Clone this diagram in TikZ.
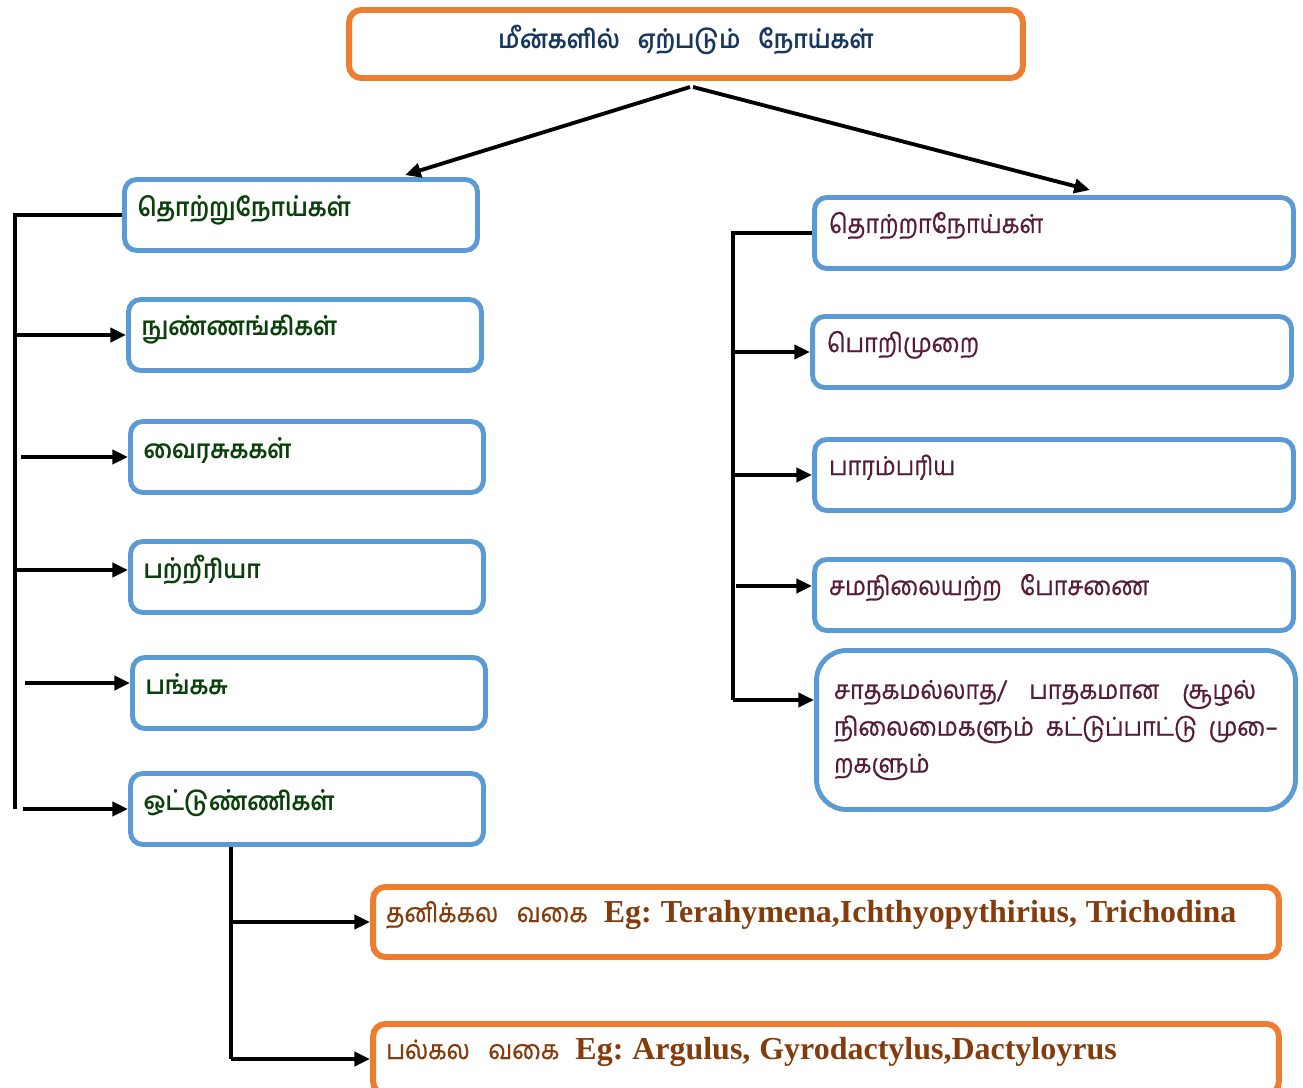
\documentclass[tikz,border=0pt]{standalone}
\usepackage{fontspec}
\setmainfont{Liberation Serif}
\newfontfamily\tamil[Script=Tamil, FakeStretch=0.9]{Hind Madurai}
\newfontfamily\tamilmid[Script=Tamil, FakeStretch=0.9, FakeBold=0.8]{Hind Madurai}
\usepackage{tikz}
\usetikzlibrary{arrows.meta, positioning, calc}
\usepackage{xcolor}
\frenchspacing
\definecolor{boxorange}{HTML}{ED7D31}
\definecolor{boxblue}{HTML}{5B9BD5}
\definecolor{titlenavy}{HTML}{17375E}
\definecolor{leftgreen}{HTML}{0B400B}
\definecolor{rightmaroon}{HTML}{561C36}
\definecolor{examplebrown}{HTML}{843C0C}
\tikzstyle{topbox} = [draw=boxorange, line width=3.4pt, rounded corners=7pt, minimum width=13.48cm, minimum height=1.36cm, text height=0.35cm, text depth=0.15cm, font=\tamil\bfseries\fontsize{14.6}{18}\selectfont, text=titlenavy]
\tikzstyle{lbox} = [draw=boxblue, line width=2.8pt, rounded corners=7pt, minimum height=1.42cm, text width=6.54cm, inner xsep=0.26cm, align=left, text height=0.32cm, text depth=0.28cm, font=\tamil\bfseries\fontsize{14.6}{18}\selectfont, text=leftgreen]
\tikzstyle{rbox} = [draw=boxblue, line width=2.8pt, rounded corners=7pt, minimum height=1.42cm, text width=9cm, inner xsep=0.29cm, align=left, text height=0.3cm, text depth=0.3cm, font=\tamilmid\fontsize{14.8}{21}\selectfont, text=rightmaroon]
\tikzstyle{ebox} = [draw=boxorange, line width=3.4pt, rounded corners=7pt, minimum height=1.40cm, text width=17.6cm, inner xsep=0.26cm, align=left, text height=0.3cm, text depth=0.3cm, font=\tamilmid\fontsize{15.2}{19}\selectfont, text=examplebrown]
\tikzstyle{conn} = [line width=2.2pt, -{Triangle[length=9pt, width=8pt]}]
\tikzstyle{bar} = [line width=2.5pt]
\newcommand{\eg}[1]{\hspace{0.6em}{\rmfamily\bfseries\fontsize{18.2}{19}\selectfont #1}}
\newcommand{\gap}{\hspace{0.7em}}

\begin{document}
\begin{tikzpicture}[x=0.02cm, y=-0.02cm]
  \useasboundingbox (0,0) rectangle (1303,1088);

  % Title
  \node[topbox] (main) at (686,44) {மீன்களில்\gap ஏற்படும்\gap நோய்கள்};

  % Communicable diseases
  \node[lbox] (tn) at (301,215) {தொற்றுநோய்கள்};
  \node[lbox] (mi) at (305,335) {நுண்ணங்கிகள்};
  \node[lbox] (vi) at (307,457) {வைரசுககள்};
  \node[lbox] (ba) at (307,577) {பற்றீரியா};
  \node[lbox] (fu) at (309,693) {பங்கசு};
  \node[lbox] (pa) at (307,809) {ஒட்டுண்ணிகள்};

  % Non-communicable diseases
  \node[rbox] (tna) at (1054,233) {தொற்றாநோய்கள்};
  \node[rbox] (me) at (1052,352) {பொறிமுறை};
  \node[rbox] (he) at (1054,475) {பாரம்பரிய};
  \node[rbox] (nu) at (1054,595) {சமநிலையற்ற\gap போசணை};
  \node[rbox, minimum height=3.18cm, rounded corners=17pt, text width=8.88cm, inner xsep=0.35cm, text height=, text depth=] (en) at (1056,730)
    {சாதகமல்லாத/\hfill பாதகமான\hfill சூழல்\makebox[0.44cm]{}\\
     நிலைமைகளும்\hfill கட்டுப்பாட்டு\hfill மு^^^^2013ை\\
     றகளும்};

  % Parasite types
  \node[ebox] (uni) at (826,922) {தனிக்கல\gap வகை\eg{Eg: Terahymena,Ichthyopythirius, Trichodina}};
  \node[ebox] (mul) at (826,1059) {பல்கல\gap வகை\eg{Eg: Argulus, Gyrodactylus,Dactyloyrus}};

  % Split from the title
  \draw[conn] ($(main.south)+(4,6)$) -- ($(tn.north)+(104,-2)$);
  \draw[conn] ($(main.south)+(7,6)$) -- ($(tna.north)+(36,-5)$);

  % Left bracket
  \coordinate (lspine) at (15,0);
  \draw[bar] (tn.west) -- (tn.west -| lspine) -- (pa.west -| lspine);
  \draw[conn] (mi.west -| lspine) -- (mi.west);
  \draw[conn] ($(vi.west -| lspine)+(6,0)$) -- (vi.west);
  \draw[conn] ($(ba.west -| lspine)+(2,-7)$) -- ($(ba.west)+(0,-7)$);
  \draw[conn] ($(fu.west -| lspine)+(10,-10)$) -- ($(fu.west)+(0,-10)$);
  \draw[conn] ($(pa.west -| lspine)+(8,0)$) -- (pa.west);

  % Right bracket
  \coordinate (rspine) at (733,0);
  \draw[bar] (tna.west) -- (tna.west -| rspine) -- ($(en.west -| rspine)+(0,-30)$);
  \draw[conn] (me.west -| rspine) -- (me.west);
  \draw[conn] (he.west -| rspine) -- (he.west);
  \draw[conn] ($(nu.west -| rspine)+(3,-9)$) -- ($(nu.west)+(0,-9)$);
  \draw[conn] ($(en.west -| rspine)+(0,-30)$) -- ($(en.west)+(0,-30)$);

  % Parasite branch
  \coordinate (bspine) at (231,0);
  \draw[bar] (pa.south -| bspine) -- (mul.west -| bspine);
  \draw[conn] (uni.west -| bspine) -- (uni.west);
  \draw[conn] (mul.west -| bspine) -- (mul.west);
\end{tikzpicture}
\end{document}
